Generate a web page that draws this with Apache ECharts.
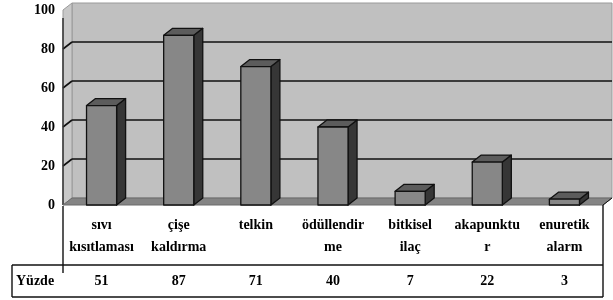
<!DOCTYPE html>
<html>
<head>
<meta charset="utf-8">
<script src="https://cdn.jsdelivr.net/npm/echarts@6/dist/echarts.min.js"></script>
<style>
  html, body { margin: 0; padding: 0; background: #fff; }
  #main { width: 613px; height: 300px; }
</style>
</head>
<body>
<div id="main"></div>
<script>
  // veriler
  var categories = ['sıvı\nkısıtlaması', 'çişe\nkaldırma', 'telkin', 'ödüllendir\nme', 'bitkisel\nilaç', 'akapunktu\nr', 'enuretik\nalarm'];
  var values = [51, 87, 71, 40, 7, 22, 3];
  var yTicks = [0, 20, 40, 60, 80, 100];
  var rowName = 'Yüzde';

  var FONT = '"Liberation Serif", "DejaVu Serif", serif';
  var DX = 9, DY = 7;   // 3d derinlik

  var chart = echarts.init(document.getElementById('main'));

  // duvarlar, zemin, tablo cizgileri
  function renderFrame(params, api) {
    var cs = params.coordSys;
    var x0 = cs.x, x1 = cs.x + cs.width, yTop = cs.y, yb = cs.y + cs.height;
    var kids = [];
    // arka duvar
    kids.push({ type: 'rect', shape: { x: x0 + DX, y: yTop - DY, width: cs.width, height: cs.height },
      style: { fill: '#c0c0c0', stroke: '#9a9a9a', lineWidth: 1 } });
    // sol duvar
    kids.push({ type: 'polygon', shape: { points: [[x0, yTop], [x0 + DX, yTop - DY], [x0 + DX, yb - DY], [x0, yb]] },
      style: { fill: '#c8c8c8', stroke: '#9a9a9a', lineWidth: 1 } });
    // izgara cizgileri
    yTicks.forEach(function (t) {
      if (t === 0 || t === yTicks[yTicks.length - 1]) return;
      var y = api.coord([0, t])[1];
      kids.push({ type: 'line', shape: { x1: x0 + DX, y1: y - DY, x2: x1 + DX, y2: y - DY },
        style: { stroke: '#111', lineWidth: 1.6 } });
      kids.push({ type: 'line', shape: { x1: x0, y1: y, x2: x0 + DX, y2: y - DY },
        style: { stroke: '#111', lineWidth: 1.6 } });
    });
    // sol kenar
    kids.push({ type: 'line', shape: { x1: x0, y1: yTop + 8, x2: x0, y2: yb },
      style: { stroke: '#333', lineWidth: 1.5 } });
    // zemin
    kids.push({ type: 'polygon', shape: { points: [[x0, yb], [x1, yb], [x1 + DX, yb - DY], [x0 + DX, yb - DY]] },
      style: { fill: '#848484', stroke: '#6a6a6a', lineWidth: 1 } });
    // tablo
    var lineStyle = { stroke: '#111', lineWidth: 1.4 };
    var r1 = yb + 60, r2 = yb + 92, left = 12;
    kids.push({ type: 'line', shape: { x1: x0, y1: yb + 1, x2: x0, y2: r1 + 8 }, style: lineStyle });
    kids.push({ type: 'line', shape: { x1: x1, y1: yb, x2: x1, y2: r2 }, style: lineStyle });
    kids.push({ type: 'line', shape: { x1: x1, y1: yb, x2: x1 + DX, y2: yb - DY }, style: { stroke: '#111', lineWidth: 1 } });
    kids.push({ type: 'line', shape: { x1: left, y1: r1, x2: x1, y2: r1 }, style: lineStyle });
    kids.push({ type: 'line', shape: { x1: left, y1: r2, x2: x1, y2: r2 }, style: lineStyle });
    kids.push({ type: 'line', shape: { x1: left, y1: r1, x2: left, y2: r2 }, style: lineStyle });
    kids.push({ type: 'text', style: { text: rowName, x: left + 4, y: (r1 + r2) / 2, fill: '#000',
      font: 'bold 14px ' + FONT, align: 'left', verticalAlign: 'middle' } });
    return { type: 'group', children: kids };
  }

  function renderBar(params, api) {
    var cs = params.coordSys;
    var i = api.value(0);
    var top = api.coord([i, api.value(1)]);
    var base = api.coord([i, 0]);
    var w = api.size([1, 0])[0] * 0.39;
    var xl = top[0] - w / 2, xr = top[0] + w / 2, yt = top[1], yb = base[1];
    var st = { stroke: '#111', lineWidth: 1.3, lineJoin: 'round' };
    return {
      type: 'group',
      children: [
        { type: 'polygon', shape: { points: [[xr, yt], [xr + DX, yt - DY], [xr + DX, yb - DY], [xr, yb]] },
          style: Object.assign({ fill: '#363636' }, st) },
        { type: 'polygon', shape: { points: [[xl, yt], [xl + DX, yt - DY], [xr + DX, yt - DY], [xr, yt]] },
          style: Object.assign({ fill: '#5c5c5c' }, st) },
        { type: 'rect', shape: { x: xl, y: yt, width: w, height: yb - yt },
          style: Object.assign({ fill: '#878787' }, st) },
        { type: 'text', style: { text: String(api.value(1)), x: top[0], y: cs.y + cs.height + 76,
          fill: '#000', font: 'bold 14px ' + FONT, align: 'center', verticalAlign: 'middle' } }
      ]
    };
  }

  var option = {
    animation: false,
    grid: { left: 63, right: 10, top: 10, bottom: 95 },
    xAxis: {
      type: 'category',
      data: categories,
      axisLine: { show: false },
      axisTick: { show: false },
      axisLabel: { interval: 0, margin: 9, lineHeight: 22, color: '#000', fontFamily: FONT,
        fontWeight: 'bold', fontSize: 14, verticalAlign: 'top' }
    },
    yAxis: {
      type: 'value',
      min: 0, max: 100, interval: 20,
      axisLine: { show: false },
      axisTick: { show: false },
      splitLine: { show: false },
      axisLabel: { margin: 8, color: '#000', fontFamily: FONT, fontWeight: 'bold', fontSize: 14 }
    },
    series: [
      { type: 'custom', z: 1, clip: false, renderItem: renderFrame, data: [0], silent: true },
      { type: 'custom', z: 2, clip: false, renderItem: renderBar,
        data: values.map(function (v, i) { return [i, v]; }) }
    ]
  };
  chart.setOption(option);
</script>
</body>
</html>
